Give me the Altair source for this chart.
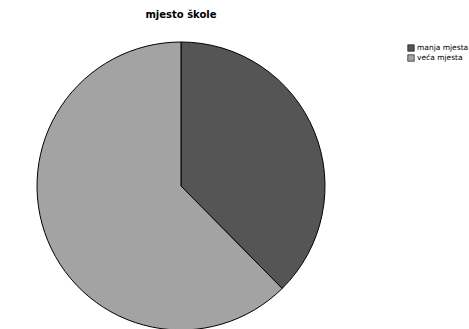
import altair as alt
import pandas as pd

categories = ["manja mjesta", "veća mjesta"]
shares = [37.6, 62.4]
colors = ["#555555", "#a3a3a3"]

df = pd.DataFrame({"kategorija": categories, "udio": shares, "red": [0, 1]})

chart = alt.Chart(df).mark_arc(
    outerRadius=144, stroke="#000000", strokeWidth=1
).encode(
    theta=alt.Theta("udio:Q", stack=True),
    order=alt.Order("red:Q"),
    color=alt.Color(
        "kategorija:N",
        scale=alt.Scale(domain=categories, range=colors),
        legend=alt.Legend(
            title=None, orient="none", legendX=407, legendY=4,
            symbolType="square", symbolSize=42, symbolStrokeColor="#000000",
            symbolStrokeWidth=0.6, labelFontSize=7.5, labelFont="DejaVu Sans",
            labelColor="#000000",
            rowPadding=0, labelOffset=2, labelLimit=80, padding=0,
        ),
    ),
).properties(
    width=362, height=292,
    title=alt.TitleParams("mjesto škole", fontSize=10, font="DejaVu Sans",
                          fontWeight="bold", offset=20, anchor="middle",
                          color="#000000"),
    autosize=alt.AutoSizeParams(type="none"),
    padding={"left": 0, "top": 40, "right": 107, "bottom": 0},
).configure_view(stroke=None)

chart.save("out.html", embed_options={"renderer": "svg", "actions": False})
